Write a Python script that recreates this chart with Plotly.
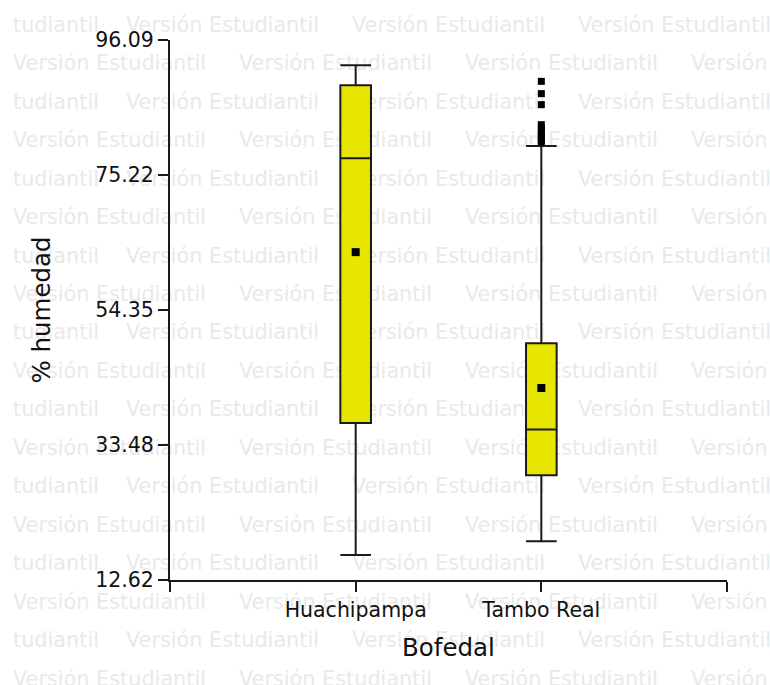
import plotly.graph_objects as go

# Box-plot summaries of soil moisture (% humedad) per bofedal
categories = ["Huachipampa", "Tambo Real"]
lower_fence = [16.5, 18.6]
q1 = [36.9, 28.8]
median = [77.8, 35.9]
q3 = [89.1, 49.2]
upper_fence = [92.2, 79.7]
means = [63.3, 42.3]

# Points beyond the upper whisker (Tambo Real)
outlier_category = "Tambo Real"
outliers = [89.7, 87.8, 86.1, 83.0, 82.5, 82.0, 81.5, 81.0, 80.6, 80.3]

y_ticks = [12.62, 33.48, 54.35, 75.22, 96.09]

W, H = 770, 685
cat_pos = list(range(len(categories)))

fig = go.Figure()

# Repeated "Versión Estudiantil" background stamp on a full-page helper axis;
# alternate rows are shifted by half a pitch and start with the word tail.
stamp = "Versión Estudiantil"
wm_x, wm_y, wm_t = [], [], []
pitch_x, pitch_y = 226, 38.47
left = 13
for k in range(18):
    yk = 26.5 + pitch_y * k
    if k % 2:
        x0 = left
    else:
        x0 = left + pitch_x / 2
        wm_x.append(left)
        wm_y.append(yk)
        wm_t.append("tudiantil")
    xs = x0
    while xs < W:
        wm_x.append(xs)
        wm_y.append(yk)
        wm_t.append(stamp)
        xs += pitch_x

fig.add_trace(go.Scatter(
    x=wm_x, y=wm_y, mode="text", text=wm_t,
    textposition="middle right", cliponaxis=True,
    textfont=dict(family="DejaVu Sans", size=20.8, color="#e9e9e9"),
    hoverinfo="skip", xaxis="x", yaxis="y",
))

fig.add_trace(go.Box(
    x=cat_pos, q1=q1, median=median, q3=q3,
    lowerfence=lower_fence, upperfence=upper_fence,
    width=0.165, whiskerwidth=1, boxpoints=False,
    fillcolor="#e6e600", line=dict(color="#1a1a1a", width=2),
    xaxis="x2", yaxis="y2",
))

fig.add_trace(go.Scatter(
    x=cat_pos, y=means, mode="markers",
    marker=dict(symbol="square", size=8, color="black"),
    xaxis="x2", yaxis="y2",
))

oi = categories.index(outlier_category)
fig.add_trace(go.Scatter(
    x=[cat_pos[oi]] * len(outliers), y=outliers, mode="markers",
    marker=dict(symbol="square", size=7, color="black"),
    xaxis="x2", yaxis="y2",
))

tick_font = dict(family="DejaVu Sans", size=20.5, color="#111111")
title_font = dict(family="DejaVu Sans", size=24.5, color="#111111")

fig.update_layout(
    template="none",
    width=W, height=H,
    margin=dict(l=0, r=0, t=0, b=0, pad=0),
    paper_bgcolor="white", plot_bgcolor="rgba(0,0,0,0)",
    showlegend=False,
    xaxis=dict(domain=[0, 1], range=[0, W], visible=False,
               fixedrange=True, automargin=False),
    yaxis=dict(domain=[0, 1], range=[H, 0], visible=False,
               fixedrange=True, automargin=False),
    xaxis2=dict(
        domain=[170 / W, 727 / W], anchor="y2", range=[-1, 2],
        tickmode="array", tickvals=[-1] + cat_pos + [2],
        ticktext=[""] + categories + [""],
        ticks="outside", ticklen=10, tickwidth=2, tickcolor="#1a1a1a",
        showline=True, linewidth=2, linecolor="#1a1a1a",
        showgrid=False, zeroline=False, tickfont=tick_font,
        automargin=False,
        title=dict(text="Bofedal", font=title_font, standoff=18),
    ),
    yaxis2=dict(
        domain=[(H - 580) / H, (H - 40) / H], anchor="x2",
        range=[y_ticks[0], y_ticks[-1]],
        tickmode="array", tickvals=y_ticks,
        ticktext=[f"{v:.2f}" for v in y_ticks],
        ticks="outside", ticklen=10, tickwidth=2, tickcolor="#1a1a1a",
        showline=True, linewidth=2, linecolor="#1a1a1a",
        showgrid=False, zeroline=False, tickfont=tick_font,
        automargin=False,
        title=dict(text="% humedad", font=title_font, standoff=38),
    ),
)

fig.write_html("out.html")
